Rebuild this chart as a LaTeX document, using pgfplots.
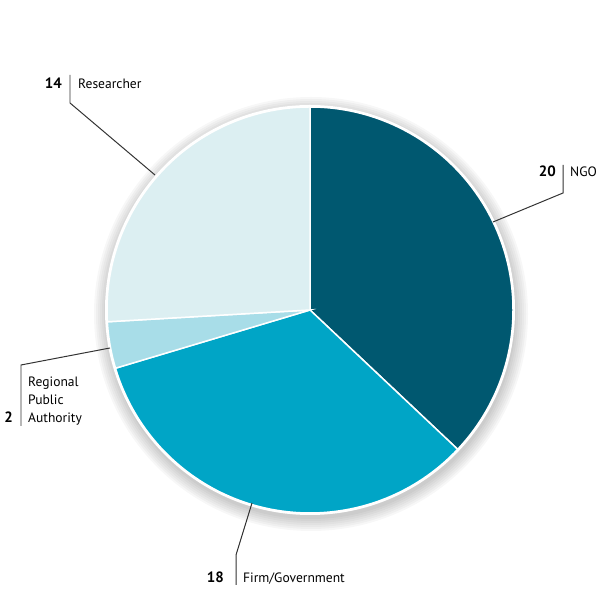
\documentclass[border=0pt]{standalone}
\usepackage{pgfplots}
\usepackage{pgfplotstable}
\pgfplotsset{compat=1.18}
\usepackage{fontspec}
\setmainfont{PT Sans}

\definecolor{cNGO}{HTML}{005870}
\definecolor{cFirm}{HTML}{00A5C6}
\definecolor{cReg}{HTML}{A8DDE8}
\definecolor{cRes}{HTML}{DCEFF2}
\definecolor{cLine}{HTML}{333333}

% counts by stakeholder type, clockwise from 12 o'clock
\pgfplotstableread{
name value
NGO 20
Firm 18
Regional 2
Researcher 14
}\piedata

\begin{document}
\begin{tikzpicture}
\pgfplotstablegetelem{0}{value}\of\piedata \let\vA\pgfplotsretval
\pgfplotstablegetelem{1}{value}\of\piedata \let\vB\pgfplotsretval
\pgfplotstablegetelem{2}{value}\of\piedata \let\vC\pgfplotsretval
\pgfplotstablegetelem{3}{value}\of\piedata \let\vD\pgfplotsretval
\pgfmathsetmacro\tot{\vA+\vB+\vC+\vD}
\pgfmathsetmacro\aA{90-360*\vA/\tot}
\pgfmathsetmacro\aB{\aA-360*\vB/\tot}
\pgfmathsetmacro\aC{\aB-360*\vC/\tot}
\pgfmathsetmacro\aD{\aC-360*\vD/\tot}
\def\R{203bp}
\begin{axis}[
  scale only axis, width=599bp, height=590bp,
  xmin=0, xmax=599, ymin=0, ymax=590,
  hide axis, clip=false,
]
\path (axis cs:0,0) rectangle (axis cs:599,590);
% soft shadow
\pgfplotsinvokeforeach{2,4,6,8,10,12,14}{
  \fill[black, opacity=0.03] (axis cs:311,276) circle[radius=203bp+#1bp];
}
\fill[white] (axis cs:310,280) circle[radius=205bp];
% wedges
\fill[cNGO, draw=white, line width=1.5pt] (axis cs:310,280) -- ++(90:\R) arc[start angle=90, end angle=\aA, radius=\R] -- cycle;
\fill[cFirm, draw=white, line width=1.5pt] (axis cs:310,280) -- ++(\aA:\R) arc[start angle=\aA, end angle=\aB, radius=\R] -- cycle;
\fill[cReg, draw=white, line width=1.5pt] (axis cs:310,280) -- ++(\aB:\R) arc[start angle=\aB, end angle=\aC, radius=\R] -- cycle;
\fill[cRes, draw=white, line width=1.5pt] (axis cs:310,280) -- ++(\aC:\R) arc[start angle=\aC, end angle=\aD, radius=\R] -- cycle;

% leader lines
\draw[cLine, line width=1pt] (axis cs:70,515) -- (axis cs:70,487) -- (axis cs:155,415);
\draw[cLine, line width=1pt] (axis cs:563,425) -- (axis cs:563,397) -- (axis cs:493,368);
\draw[cLine, line width=1pt] (axis cs:21,164) -- (axis cs:21,225) -- (axis cs:110,242);
\draw[cLine, line width=1pt] (axis cs:236,5) -- (axis cs:236,35) -- (axis cs:252,87);

% labels
\tikzset{lab/.style={inner sep=0pt, text=black, font=\fontsize{13.6}{16}\selectfont},
         num/.style={inner sep=0pt, text=black, font=\fontsize{15}{18}\selectfont\bfseries}}
\node[num, anchor=base east] at (axis cs:62,501) {14};
\node[lab, anchor=base west] at (axis cs:78,501) {Researcher};
\node[num, anchor=base east] at (axis cs:556,413) {20};
\node[lab, anchor=base west] at (axis cs:570,413) {NGO};
\node[num, anchor=base east] at (axis cs:13,167) {2};
\node[lab, anchor=base west] at (axis cs:28,203) {Regional};
\node[lab, anchor=base west] at (axis cs:28,185) {Public};
\node[lab, anchor=base west] at (axis cs:28,167) {Authority};
\node[num, anchor=base east] at (axis cs:224,7) {18};
\node[lab, anchor=base west] at (axis cs:243,7) {Firm/Government};
\end{axis}
\end{tikzpicture}
\end{document}
